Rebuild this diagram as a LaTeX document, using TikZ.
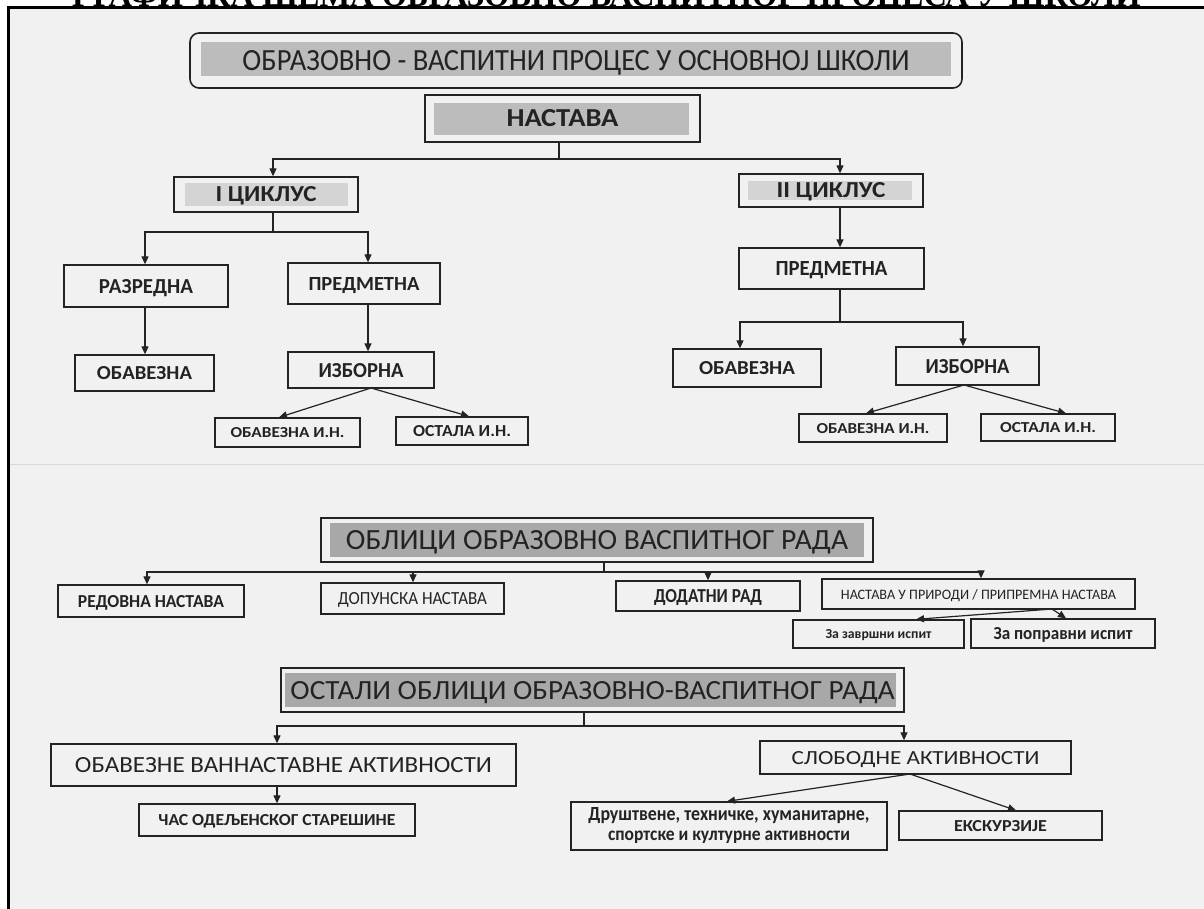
\documentclass[tikz,border=0pt]{standalone}
\usepackage{graphicx}
\usepackage{fontspec}
\setmainfont{Carlito}
\newfontfamily\serifb{Liberation Serif}
\usetikzlibrary{arrows.meta,calc}
\newcommand\fitbox[3]{\resizebox{#1pt}{#2pt}{#3}}
\definecolor{paper}{RGB}{241,241,241}
\definecolor{ink}{RGB}{35,35,35}
\definecolor{shadeA}{RGB}{188,188,188}
\definecolor{shadeB}{RGB}{212,212,212}
\definecolor{shadeC}{RGB}{168,168,168}
\begin{document}
\begin{tikzpicture}[x=1pt,y=-1pt,
  box/.style={draw=ink, line width=1.3pt, inner sep=0pt, text depth=0pt, text=ink},
  boxml/.style={draw=ink, line width=1.3pt, inner sep=0pt, text=ink},
  ln/.style={draw=ink, line width=1.2pt},
  ar/.style={ln, -{Triangle[length=8pt,width=7pt]}},
]
\useasboundingbox (0,0) rectangle (1204,909);
\fill[white] (0,0) rectangle (1204,909);
\fill[paper] (8,8) rectangle (1204,909);
\draw[gray!30, line width=0.8pt] (10,464) -- (1204,464);

% clipped page title
\begin{scope}
\clip (0,0) rectangle (1204,7);
\node[anchor=base west, inner sep=0pt] (pagetitle) at (72,7) {\serifb\bfseries\fitbox{1068}{22}{ГРАФИЧКА ШЕМА ОБРАЗОВНО ВАСПИТНОГ ПРОЦЕСА У ШКОЛИ}};
\end{scope}
\draw[black, line width=3pt] (8,909) -- (8,8) -- (1204,8);

% shaded bands
\fill[shadeA] (201,42) rectangle (951,76);
\fill[shadeA] (434,103) rectangle (689,135);
\fill[shadeB] (185,183) rectangle (348,206);
\fill[shadeB] (748,181) rectangle (912,200);
\fill[shadeC] (330,523) rectangle (864,557);
\fill[shadeC] (285,673) rectangle (896,707);

% --- part 1
\node[box, rounded corners=9pt, line width=1.6pt, minimum width=772, minimum height=55] (top) at (576,60.5) {\fitbox{667}{20}{ОБРАЗОВНО - ВАСПИТНИ ПРОЦЕС У ОСНОВНОЈ ШКОЛИ}};
\node[box, minimum width=275, minimum height=47] (nast) at (562.5,118.5) {\bfseries\fitbox{112}{17}{НАСТАВА}};
\node[box, minimum width=184, minimum height=35] (c1) at (266,194.5) {\bfseries\fitbox{101}{15}{I ЦИКЛУС}};
\node[box, minimum width=184, minimum height=33] (c2) at (831,190.5) {\bfseries\fitbox{109}{15}{II ЦИКЛУС}};
\node[box, minimum width=164, minimum height=42] (razr) at (146,286) {\bfseries\fitbox{94}{14}{РАЗРЕДНА}};
\node[box, minimum width=152, minimum height=41] (pred1) at (364,283.5) {\bfseries\fitbox{111}{13}{ПРЕДМЕТНА}};
\node[box, minimum width=139, minimum height=36] (obav1) at (144.5,373) {\bfseries\fitbox{95}{13}{ОБАВЕЗНА}};
\node[box, minimum width=146, minimum height=36] (izb1) at (361,370) {\bfseries\fitbox{85}{14}{ИЗБОРНА}};
\node[box, minimum width=145, minimum height=29] (oin1) at (287.5,432.5) {\bfseries\fitbox{114}{10}{ОБАВЕЗНА И.Н.}};
\node[box, minimum width=132, minimum height=28] (oost1) at (462,431) {\bfseries\fitbox{98}{11}{ОСТАЛА И.Н.}};
\node[box, minimum width=185, minimum height=41] (pred2) at (831.5,268.5) {\bfseries\fitbox{112}{14}{ПРЕДМЕТНА}};
\node[box, minimum width=148, minimum height=38] (obav2) at (747,368) {\bfseries\fitbox{96}{13}{ОБАВЕЗНА}};
\node[box, minimum width=143, minimum height=38] (izb2) at (967.5,366) {\bfseries\fitbox{84}{14}{ИЗБОРНА}};
\node[box, minimum width=148, minimum height=28] (oin2) at (873,428) {\bfseries\fitbox{113}{10}{ОБАВЕЗНА И.Н.}};
\node[box, minimum width=134, minimum height=27] (oost2) at (1048,427.5) {\bfseries\fitbox{96}{10}{ОСТАЛА И.Н.}};

\coordinate (j1) at (559,159);
\coordinate (j1l) at (273,159);
\coordinate (j1r) at (840,159);
\draw[ln] (nast.south -| j1) -- (j1);
\draw[ar] (j1) -- (j1l) -- (j1l |- c1.north);
\draw[ar] (j1) -- (j1r) -- (j1r |- c2.north);
\draw[ar] (c2.south -| j1r) -- (pred2.north -| j1r);

\coordinate (j2) at (273,232);
\coordinate (j2l) at (145,232);
\coordinate (j2r) at (368,232);
\draw[ln] (c1.south -| j2) -- (j2);
\draw[ar] (j2) -- (j2l) -- (j2l |- razr.north);
\draw[ar] (j2) -- (j2r) -- (j2r |- pred1.north);
\draw[ar] (razr.south -| j2l) -- (obav1.north -| j2l);
\draw[ar] (pred1.south -| j2r) -- (izb1.north -| j2r);
\coordinate (s1) at (371,388);
\coordinate (t1) at (279,0);
\coordinate (t2) at (469,0);
\draw[ar] (s1) -- (oin1.north -| t1);
\draw[ar] (s1) -- (oost1.north -| t2);

\coordinate (j3) at (840,322);
\coordinate (j3l) at (740,322);
\coordinate (j3r) at (963,322);
\draw[ln] (pred2.south -| j3) -- (j3);
\draw[ar] (j3) -- (j3l) -- (j3l |- obav2.north);
\draw[ar] (j3) -- (j3r) -- (j3r |- izb2.north);
\coordinate (s2) at (964,385);
\coordinate (t3) at (866,0);
\coordinate (t4) at (1066,0);
\draw[ar] (s2) -- (oin2.north -| t3);
\draw[ar] (s2) -- (oost2.north -| t4);

% --- part 2
\node[box, minimum width=552, minimum height=44] (obl) at (597,540) {\fitbox{502}{19}{ОБЛИЦИ ОБРАЗОВНО ВАСПИТНОГ РАДА}\hspace{18pt}};
\node[box, minimum width=186, minimum height=32] (red) at (151,601) {\bfseries\fitbox{146}{12}{РЕДОВНА НАСТАВА}};
\node[box, minimum width=183, minimum height=31] (dop) at (412.5,598.5) {\fitbox{149}{12}{ДОПУНСКА НАСТАВА}};
\node[box, minimum width=184, minimum height=30] (dod) at (708,596) {\bfseries\fitbox{108}{13}{ДОДАТНИ РАД}};
\node[box, minimum width=313, minimum height=30] (npr) at (978.5,594) {\fitbox{275}{10}{НАСТАВА У ПРИРОДИ / ПРИПРЕМНА НАСТАВА}};
\node[box, minimum width=171, minimum height=28] (zz) at (878.5,634) {\bfseries\fitbox{106}{9}{За завршни испит}};
\node[box, minimum width=184, minimum height=29] (zp) at (1063,633.5) {\bfseries\fitbox{139}{12}{За поправни испит}};

\coordinate (j4) at (604,572);
\coordinate (j4a) at (147,572);
\coordinate (j4b) at (413,572);
\coordinate (j4c) at (708,572);
\coordinate (j4d) at (981,572);
\draw[ln] (obl.south -| j4) -- (j4);
\draw[ar] (j4) -- (j4a) -- (j4a |- red.north);
\draw[ar] (j4) -- (j4d) -- (j4d |- npr.north);
\draw[ar] (j4b) -- (j4b |- dop.north);
\draw[ar] (j4c) -- (j4c |- dod.north);
\coordinate (s3) at (1052,609);
\coordinate (t5) at (916,0);
\coordinate (t6) at (1066,0);
\draw[ar] (s3) -- (zz.north -| t5);
\draw[ar] (s3) -- (zp.north -| t6);

% --- part 3
\node[box, minimum width=623, minimum height=44] (ost) at (592.5,690) {\fitbox{604}{18}{ОСТАЛИ ОБЛИЦИ ОБРАЗОВНО-ВАСПИТНОГ РАДА}\hspace{7pt}};
\node[box, minimum width=465, minimum height=42] (oba) at (283.5,765) {\fitbox{417}{15}{ОБАВЕЗНЕ ВАННАСТАВНЕ АКТИВНОСТИ}\hspace{32pt}};
\node[box, minimum width=276, minimum height=32] (cas) at (277,820) {\bfseries\fitbox{237}{11}{ЧАС ОДЕЉЕНСКОГ СТАРЕШИНЕ}};
\node[box, minimum width=311, minimum height=33] (slo) at (915.5,757.5) {\fitbox{248}{13}{СЛОБОДНЕ АКТИВНОСТИ}};
\node[boxml, minimum width=316, minimum height=48] (dru) at (729,826) {\bfseries\begin{tabular}{@{}c@{}}\fitbox{281}{13}{Друштвене, техничке, хуманитарне,}\\[7pt]\fitbox{242}{9.5}{спортске и културне активности}\end{tabular}};
\node[box, minimum width=203, minimum height=29] (eks) at (1000.5,825.5) {\bfseries\fitbox{93}{11}{ЕКСКУРЗИЈЕ}};

\coordinate (j5) at (584,726);
\coordinate (j5l) at (277,726);
\coordinate (j5r) at (904,726);
\draw[ln] (ost.south -| j5) -- (j5);
\draw[ar] (j5) -- (j5l) -- (j5l |- oba.north);
\draw[ar] (j5) -- (j5r) -- (j5r |- slo.north);
\draw[ar] (oba.south -| j5l) -- (cas.north -| j5l);
\coordinate (s4) at (910,774);
\coordinate (t7) at (727,0);
\coordinate (t8) at (1016,0);
\draw[ar] (s4) -- (dru.north -| t7);
\draw[ar] (s4) -- (eks.north -| t8);
\end{tikzpicture}
\end{document}
